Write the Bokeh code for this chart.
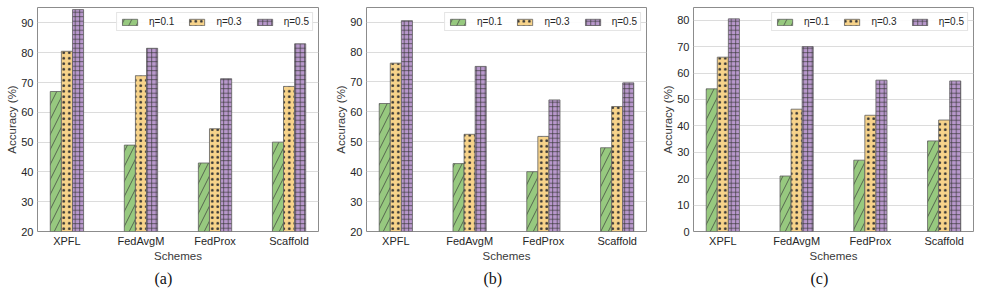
import numpy as np
from bokeh.plotting import figure
from bokeh.layouts import row
from bokeh.models import ColumnDataSource, FixedTicker, Range1d, Legend, LegendItem, Title
from bokeh.embed import file_html
from bokeh.resources import INLINE

categories = ["XPFL", "FedAvgM", "FedProx", "Scaffold"]
series_labels = ["η=0.1", "η=0.3", "η=0.5"]

# (a)
acc_a_01 = [67.0, 49.0, 43.0, 50.0]
acc_a_03 = [80.5, 72.3, 54.5, 68.7]
acc_a_05 = [94.5, 81.5, 71.3, 83.0]
# (b)
acc_b_01 = [62.8, 42.7, 40.0, 48.0]
acc_b_03 = [76.3, 52.5, 51.8, 61.8]
acc_b_05 = [90.5, 75.2, 64.0, 69.7]
# (c)
acc_c_01 = [54.0, 21.0, 27.0, 34.3]
acc_c_03 = [66.0, 46.3, 44.0, 42.2]
acc_c_05 = [80.5, 70.0, 57.3, 57.0]

yticks_ab = [20, 30, 40, 50, 60, 70, 80, 90]
yticks_c = [0, 10, 20, 30, 40, 50, 60, 70, 80]

colors = ["#97c97f", "#f7d38a", "#b898cc"]
hatches = ["right_diagonal_line", "dot", "cross"]
hatch_colors = ["#3a3a3a", "#333333", "#3a3a3a"]
hatch_scales = [15, 5.5, 4.5]
hatch_weights = [0.7, 0.4, 0.7]
offsets = [-0.15, 0.0, 0.15]
bar_w = 0.15

FONT = "Liberation Sans"


def make_panel(series, yrange, yticks, caption, width, right):
    p = figure(width=width, height=290, output_backend="svg", toolbar_location=None,
               x_range=Range1d(-0.3975, 3.3975), y_range=Range1d(*yrange),
               min_border_left=37, min_border_right=right, min_border_top=7,
               min_border_bottom=59)
    items = []
    xs = np.arange(len(categories))
    for k, vals in enumerate(series):
        src = ColumnDataSource(dict(x=xs + offsets[k], top=vals))
        r = p.vbar(x="x", top="top", width=bar_w, bottom=yrange[0], source=src,
                   fill_color=colors[k], line_color="#606060", line_width=0.8,
                   hatch_pattern=hatches[k], hatch_color=hatch_colors[k],
                   hatch_scale=hatch_scales[k], hatch_weight=hatch_weights[k])
        items.append(LegendItem(label=series_labels[k], renderers=[r]))

    legend = Legend(items=items, orientation="horizontal", location="top_right",
                    margin=5, padding=3, spacing=13, label_standoff=10,
                    glyph_width=19, glyph_height=8, label_height=11,
                    label_text_font=FONT, label_text_font_size="10px",
                    label_text_color="#262626",
                    border_line_color="#cccccc", border_line_width=1,
                    background_fill_color="white", background_fill_alpha=0.9)
    p.add_layout(legend)

    p.xaxis.ticker = FixedTicker(ticks=list(range(len(categories))))
    p.xaxis.major_label_overrides = {i: c for i, c in enumerate(categories)}
    p.yaxis.ticker = FixedTicker(ticks=yticks)
    for ax in (p.xaxis, p.yaxis):
        ax.axis_line_color = None
        ax.major_tick_line_color = None
        ax.minor_tick_line_color = None
        ax.major_tick_out = 0
        ax.major_tick_in = 0
        ax.major_label_text_font = FONT
        ax.major_label_text_font_size = "11px"
        ax.major_label_text_color = "#262626"
        ax.axis_label_text_font = FONT
        ax.axis_label_text_font_size = "11.5px"
        ax.axis_label_text_font_style = "normal"
        ax.axis_label_text_color = "#3a3a3a"
    p.xaxis.axis_label = "Schemes"
    p.yaxis.axis_label = "Accuracy (%)"
    p.xaxis.major_label_standoff = 3
    p.xaxis.axis_label_standoff = 0
    p.yaxis.major_label_standoff = 4
    p.yaxis.axis_label_standoff = 0

    p.xgrid.grid_line_color = None
    p.ygrid.grid_line_color = "#dcdcdc"
    p.ygrid.grid_line_width = 1
    p.outline_line_color = "#8c8c8c"
    p.outline_line_width = 1
    p.background_fill_color = "white"
    p.border_fill_color = "white"

    t = Title(text=caption, align="left", offset=117, standoff=6,
              text_font="Liberation Serif", text_font_size="16px",
              text_font_style="normal", text_color="#111111")
    p.add_layout(t, "below")
    return p


pa = make_panel([acc_a_01, acc_a_03, acc_a_05], (20, 95.2), yticks_ab, "(a)", 329, 11)
pb = make_panel([acc_b_01, acc_b_03, acc_b_05], (20, 94.9), yticks_ab, "(b)", 327, 10)
pc = make_panel([acc_c_01, acc_c_03, acc_c_05], (0, 84.8), yticks_c, "(c)", 325, 8)

p = row(pa, pb, pc)
open("out.html", "w").write(file_html(p, INLINE))
